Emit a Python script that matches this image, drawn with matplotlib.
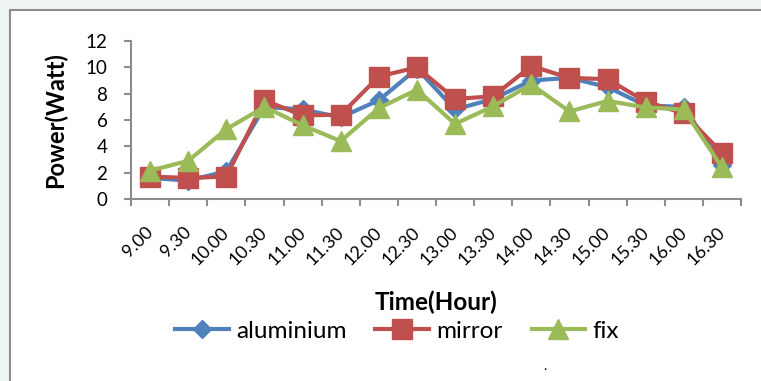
import matplotlib
matplotlib.use("Agg")
import matplotlib.pyplot as plt
import matplotlib.patches as mpatches
import matplotlib.transforms as mtransforms
import numpy as np

hours = ["9.00", "9.30", "10.00", "10.30", "11.00", "11.30", "12.00", "12.30",
         "13.00", "13.30", "14.00", "14.30", "15.00", "15.30", "16.00", "16.30"]
aluminium = [1.6, 1.4, 2.1, 7.0, 6.8, 6.2, 7.5, 9.9, 6.8, 7.6, 9.0, 9.2, 8.5, 7.1, 7.0, 2.6]
mirror = [1.7, 1.6, 1.7, 7.5, 6.35, 6.4, 9.3, 10.0, 7.6, 7.8, 10.1, 9.2, 9.1, 7.4, 6.5, 3.5]
fix = [2.15, 2.9, 5.3, 7.0, 5.6, 4.4, 6.9, 8.3, 5.7, 7.05, 8.7, 6.65, 7.45, 6.95, 6.8, 2.4]
yticks = [0, 2, 4, 6, 8, 10, 12]

FONT = ["Lato", "DejaVu Sans"]
plt.rcParams["font.family"] = FONT

W, H = 761, 381
fig = plt.figure(figsize=(W / 100, H / 100), dpi=100)
fig.patch.set_facecolor("#eef3f4")
# chart area frame
frame = mpatches.Rectangle((10 / W, -0.05), 1.1, (H - 10) / H + 0.05,
                           transform=fig.transFigure, facecolor="white",
                           edgecolor="#8c8c8c", linewidth=1.5, zorder=-10)
fig.patches.append(frame)

ax = fig.add_axes([131 / W, 1 - 199 / H, 610 / W, 158 / H])
ax.set_zorder(1)
ax.set_facecolor("none")
x = np.arange(len(hours))

blue, red, green = "#4F81BD", "#C0504D", "#9BBB59"
ax.plot(x, aluminium, color=blue, lw=3.0, marker="D", ms=9, mec=blue, mfc=blue,
        label="aluminium", zorder=3)
ax.plot(x, mirror, color=red, lw=3.0, marker="s", ms=14, mec=red, mfc=red,
        label="mirror", zorder=4)
ax.plot(x, fix, color=green, lw=3.0, marker="^", ms=15, mec=green, mfc=green,
        label="fix", zorder=5)

ax.set_xlim(-0.5, len(hours) - 0.5)
ax.set_ylim(0, 12)
ax.set_yticks(yticks)
ax.set_yticklabels([str(v) for v in yticks], fontsize=13.5)
ax.set_xticks(x)
ax.set_xticklabels(hours, fontsize=13, rotation=45, ha="right")
ax.set_xticks(np.arange(-0.5, len(hours)), minor=True)
ax.tick_params(axis="x", which="major", length=0, pad=18)
ax.tick_params(axis="x", which="minor", length=5, width=1.5, color="#8c8c8c")
ax.tick_params(axis="y", length=5, width=1.5, color="#8c8c8c", pad=12)
offset = mtransforms.ScaledTranslation(6 / 100, 0, fig.dpi_scale_trans)
for lbl in ax.get_xticklabels():
    lbl.set_transform(lbl.get_transform() + offset)

for s in ["top", "right"]:
    ax.spines[s].set_visible(False)
for s in ["left", "bottom"]:
    ax.spines[s].set_color("#8c8c8c")
    ax.spines[s].set_linewidth(1.5)

ax.set_xlabel("Time(Hour)", fontsize=17.5, fontweight="bold", va="center")
ax.xaxis.set_label_coords(0.5, (199 - 302) / 158)
ax.set_ylabel("Power(Watt)", fontsize=17, fontweight="bold", va="center")
ax.yaxis.set_label_coords((55 - 131) / 610, 0.5)

fig.legend(loc="center", bbox_to_anchor=(397 / W, 1 - 331 / H), ncol=3,
           frameon=False, fontsize=17.5, handlelength=2.2, handletextpad=0.3,
           columnspacing=1.2, borderpad=0)

fig.text(545 / W, 1 - 366 / H, ".", fontsize=10, ha="center", va="center")

fig.savefig("out.png", dpi=100, facecolor=fig.get_facecolor())
